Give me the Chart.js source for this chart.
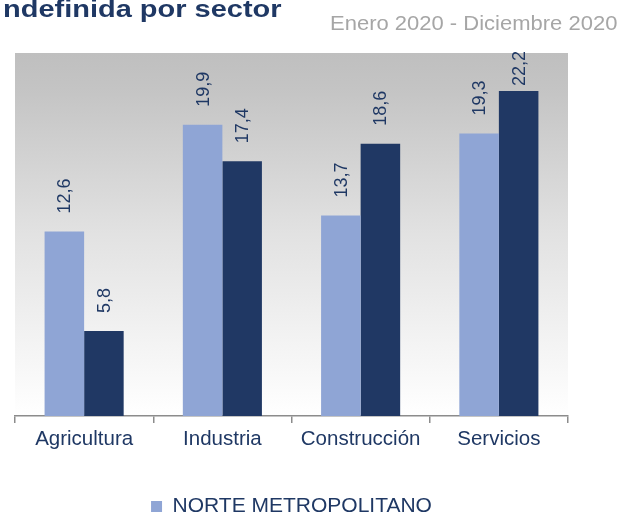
<!DOCTYPE html>
<html>
<head>
<meta charset="utf-8">
<script src="https://cdn.jsdelivr.net/npm/chart.js@4.4.1/dist/chart.umd.min.js"></script>
<style>
  html, body { margin: 0; padding: 0; background: #fff; }
  #wrap { position: relative; width: 622px; height: 517px; overflow: hidden; }
  #title {
    position: absolute; left: 3px; top: -2px;
    font: bold 23px "Liberation Sans", Arial, sans-serif; line-height: 23px;
    color: #1F3864; white-space: nowrap;
    transform: scaleX(1.26); transform-origin: left top;
  }
  #subtitle {
    position: absolute; left: 330px; top: 13px;
    font: 20px "Liberation Sans", Arial, sans-serif; line-height: 20px;
    color: #A6A6A6; white-space: nowrap;
    transform: scaleX(1.1); transform-origin: left top;
  }
  canvas { position: absolute; left: 0; top: 0; }
</style>
</head>
<body>
<div id="wrap">
  <canvas id="sectorChart" width="622" height="527"></canvas>
  <div id="title">ndefinida por sector</div>
  <div id="subtitle">Enero 2020 - Diciembre 2020</div>
</div>
<script>
const sectores = ['Agricultura', 'Industria', 'Construcción', 'Servicios'];
const nombreNorte = 'NORTE METROPOLITANO';
const nombreOtra = 'Serie 2';
const valoresNorte = [12.6, 19.9, 13.7, 19.3];
const valoresOtra = [5.8, 17.4, 18.6, 22.2];

const fuente = '"Liberation Sans", Arial, sans-serif';
const azulOscuro = '#1F3864';

// fondo degradado del area del grafico
const fondo = {
    id: 'fondo',
    beforeDraw(chart) {
        const { ctx, chartArea: a } = chart;
        const g = ctx.createLinearGradient(0, a.top, 0, a.bottom);
        g.addColorStop(0, '#BFBFBF');
        g.addColorStop(0.1, '#C4C4C4');
        g.addColorStop(0.5, '#E2E2E2');
        g.addColorStop(1, '#FFFFFF');
        ctx.save();
        ctx.fillStyle = g;
        ctx.fillRect(a.left, a.top, a.right - a.left, a.bottom - a.top);
        ctx.restore();
    }
};

// etiquetas de valor giradas encima de cada barra
const etiquetas = {
    id: 'etiquetas',
    afterDatasetsDraw(chart) {
        const ctx = chart.ctx;
        const top = chart.chartArea.top;
        ctx.save();
        ctx.font = '18px ' + fuente;
        ctx.fillStyle = azulOscuro;
        ctx.textAlign = 'left';
        ctx.textBaseline = 'middle';
        chart.data.datasets.forEach((ds, i) => {
            chart.getDatasetMeta(i).data.forEach((bar, j) => {
                const txt = ds.data[j].toFixed(1).replace('.', ',');
                const w = ctx.measureText(txt).width;
                let base = bar.y - 18;
                if (base - w < top - 2) base = top - 2 + w;
                ctx.save();
                ctx.translate(bar.x + 1, base);
                ctx.rotate(-Math.PI / 2);
                ctx.fillText(txt, 0, 0);
                ctx.restore();
            });
        });
        ctx.restore();
    }
};

new Chart('sectorChart', {
    type: 'bar',
    data: {
        labels: sectores,
        datasets: [{
            label: nombreNorte,
            data: valoresNorte,
            backgroundColor: '#8FA5D5'
        }, {
            label: nombreOtra,
            data: valoresOtra,
            backgroundColor: '#203864'
        }]
    },
    options: {
        responsive: false,
        animation: false,
        events: [],
        layout: { padding: { top: 53, left: 15, right: 54, bottom: 0 } },
        datasets: { bar: { barPercentage: 1, categoryPercentage: 0.572 } },
        scales: {
            x: {
                grid: { drawOnChartArea: false, drawTicks: true, tickLength: 7, color: '#8C8C8C', lineWidth: 1.5, offset: true },
                border: { color: '#8C8C8C', width: 1.5 },
                ticks: { color: azulOscuro, font: { size: 20.5, family: fuente }, padding: 4 },
                afterFit(axis) { axis.height = 76; }
            },
            y: {
                display: false,
                min: 0,
                max: 24.8
            }
        },
        plugins: {
            legend: {
                position: 'bottom',
                labels: {
                    filter: item => item.datasetIndex === 0,
                    boxWidth: 11,
                    boxHeight: 11,
                    padding: 4,
                    color: azulOscuro,
                    font: { size: 21, family: fuente }
                }
            },
            tooltip: { enabled: false }
        }
    },
    plugins: [fondo, etiquetas]
});
</script>
</body>
</html>
